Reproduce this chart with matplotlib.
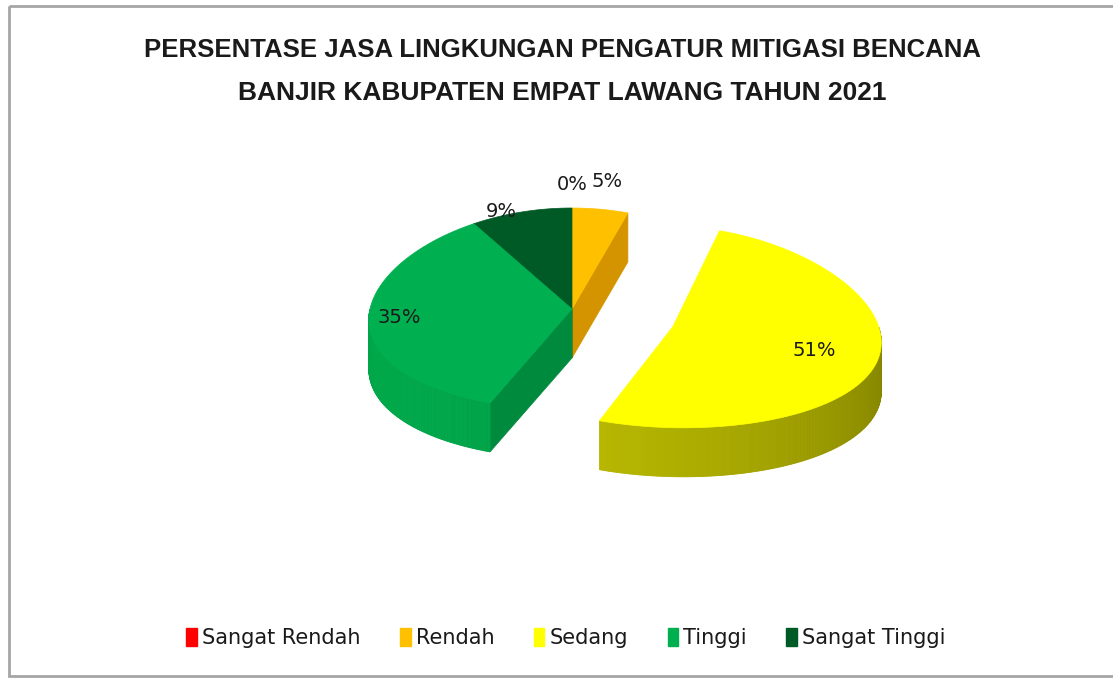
import numpy as np
import matplotlib
matplotlib.use("Agg")
import matplotlib.pyplot as plt
from matplotlib.patches import Polygon, Rectangle, Patch
from matplotlib.colors import to_rgb

# data
categories = ["Sangat Rendah", "Rendah", "Sedang", "Tinggi", "Sangat Tinggi"]
values = [0, 5, 51, 35, 9]
pct_labels = ["0%", "5%", "51%", "35%", "9%"]
explode = [0, 0, 0.52, 0, 0]

title_lines = ["PERSENTASE JASA LINGKUNGAN PENGATUR MITIGASI BENCANA",
               "BANJIR KABUPATEN EMPAT LAWANG TAHUN 2021"]

# styles
top_colors = ["#FF0000", "#FFC000", "#FFFF00", "#00B050", "#005A26"]
wall_light = ["#C00000", "#D8A000", "#BDBD00", "#00A84A", "#004A1E"]
wall_dark = ["#900000", "#B07A00", "#7E7E00", "#007A35", "#00381A"]
cut_colors = ["#B00000", "#D49400", "#A0A000", "#008A3E", "#004A1E"]
label_r = [1.23, 1.28, 0.70, 0.85, 1.04]
label_dt = [0, 0, 0, 0, -6]

# pie geometry in pixels (ellipse + slight perspective, extruded downwards)
CX, CY, A, B, K, DEPTH = 572, 309, 202, 101, 0.11, 49


def proj(u, v, lift=0.0):
    u = np.atleast_1d(u)
    v = np.atleast_1d(v)
    return np.column_stack([CX + A * u * (1 + K * v), CY + B * v + lift])


def mix(c1, c2, f):
    a, b = np.array(to_rgb(c1)), np.array(to_rgb(c2))
    return tuple(a * f + b * (1 - f))


fig = plt.figure(figsize=(11.13, 6.8), dpi=100)
ax = fig.add_axes([0, 0, 1, 1])
ax.set_xlim(0, 1113)
ax.set_ylim(680, 0)
ax.axis("off")

total = float(sum(values))
ends = np.cumsum(values) / total * 360.0
starts = ends - np.array(values) / total * 360.0

wedges = []
for i in range(len(values)):
    t1, t2 = starts[i], ends[i]
    tm = np.radians((t1 + t2) / 2)
    ou, ov = explode[i] * np.sin(tm), -explode[i] * np.cos(tm)
    wedges.append((ov - np.cos(tm), i, t1, t2, ou, ov))
wedges.sort()

for _, i, t1, t2, ou, ov in wedges:
    if t2 - t1 <= 0:
        continue
    ts = np.radians(np.linspace(t1, t2, max(3, int((t2 - t1) * 2))))
    au, av = ou + np.sin(ts), ov - np.cos(ts)
    apex_t, apex_b = proj(ou, ov)[0], proj(ou, ov, DEPTH)[0]

    # radial cut faces facing the viewer
    for t, vis in ((np.radians(t1), -np.sin(np.radians(t1))),
                   (np.radians(t2), np.sin(np.radians(t2)))):
        if vis > 1e-6:
            et = proj(ou + np.sin(t), ov - np.cos(t))[0]
            eb = proj(ou + np.sin(t), ov - np.cos(t), DEPTH)[0]
            ax.add_patch(Polygon([apex_t, et, eb, apex_b], closed=True,
                                 facecolor=cut_colors[i], edgecolor=cut_colors[i], lw=0.5))

    # outer wall (front half only), shaded by angle
    top = proj(au, av)
    bot = proj(au, av, DEPTH)
    for j in range(len(ts) - 1):
        tmid = (ts[j] + ts[j + 1]) / 2
        if np.cos(tmid) >= 0:
            continue
        f = 0.5 + 0.5 * np.cos(tmid - np.radians(240))
        col = mix(wall_light[i], wall_dark[i], f)
        ax.add_patch(Polygon([top[j], top[j + 1], bot[j + 1], bot[j]], closed=True,
                             facecolor=col, edgecolor=col, lw=0.6))

    # top face
    ax.add_patch(Polygon(np.vstack([apex_t, top]), closed=True,
                         facecolor=top_colors[i], edgecolor=top_colors[i], lw=0.5))

# data labels
for _, i, t1, t2, ou, ov in wedges:
    t = np.radians((t1 + t2) / 2 + label_dt[i])
    p = proj(ou + label_r[i] * np.sin(t), ov - label_r[i] * np.cos(t))[0]
    ax.text(p[0], p[1], pct_labels[i], ha="center", va="center",
            fontsize=14, color="#1a1a1a")

# title
title_font = ["Liberation Sans", "DejaVu Sans"]
ax.text(562, 50, title_lines[0], ha="center", va="center", fontsize=18.5,
        fontweight="bold", color="#1a1a1a", family=title_font)
ax.text(562, 93, title_lines[1], ha="center", va="center", fontsize=19,
        fontweight="bold", color="#1a1a1a", family=title_font)

# legend
handles = [Patch(facecolor=c, edgecolor=c) for c in top_colors]
ax.legend(handles, categories, loc="center", ncol=5, frameon=False,
          bbox_to_anchor=(566 / 1113, 1 - 638 / 680), bbox_transform=fig.transFigure,
          fontsize=15, handlelength=0.5, handleheight=1.0, handletextpad=0.25,
          columnspacing=1.9, labelcolor="#1a1a1a")

# chart frame
ax.add_patch(Rectangle((9, 6), 1112, 670, fill=False, edgecolor="#A6A6A6", lw=2))

fig.savefig("out.png", dpi=100)
